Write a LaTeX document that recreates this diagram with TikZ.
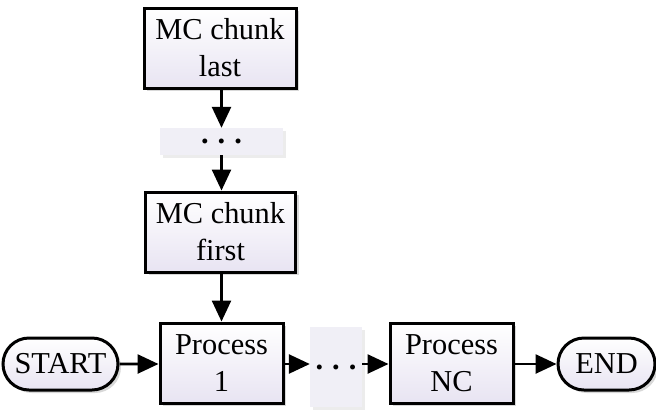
\documentclass[tikz,border=0pt]{standalone}
\usepackage{fontspec}
\setmainfont{Liberation Serif}
\usetikzlibrary{arrows.meta, shadows, shapes.misc}

\definecolor{boxlow}{RGB}{232,228,242}
\definecolor{dotfill}{RGB}{240,239,246}
\newcommand{\gapdots}{\raisebox{-3bp}{\textbf{.\hspace{9bp}.\hspace{9bp}.}}}

\tikzset{
  procbox/.style={draw, line width=3bp, rectangle, align=center,
    top color=white, bottom color=boxlow,
    drop shadow={shadow xshift=3bp, shadow yshift=-3bp, fill=black!30},
    minimum width=#1, minimum height=80bp, inner sep=0pt},
  procbox/.default=123bp,
  termbox/.style={draw, line width=3bp, rounded rectangle,
    top color=white, bottom color=boxlow,
    drop shadow={shadow xshift=3bp, shadow yshift=-3bp, fill=black!30},
    minimum width=#1, minimum height=52bp, inner sep=0pt},
  dotbox/.style={fill=dotfill, inner sep=0pt,
    drop shadow={shadow xshift=3bp, shadow yshift=-3bp, fill=black!15}},
  flow/.style={-{Triangle[length=21bp, width=19bp]}, line width=2.6bp}
}

\begin{document}
\begin{tikzpicture}[x=1bp, y=-1bp, font=\fontsize{30.5}{37}\selectfont]
  \useasboundingbox (0,0) rectangle (656,410);
  % vertical chain of chunks
  \node[procbox=152bp] (last) at (220,48) {MC chunk\\last};
  \node[dotbox, minimum width=123bp, minimum height=27bp] (vdots) at (221.5,141.5) {\gapdots};
  \node[procbox=150bp] (first) at (220.5,232) {MC chunk\\first};
  % horizontal chain of processes
  \node[termbox=115bp] (start) at (60.5,364) {START};
  \node[procbox] (proc1) at (221.5,363) {Process\\1};
  \node[dotbox, minimum width=52bp, minimum height=80bp] (hdots) at (336,367) {\gapdots};
  \node[procbox] (procnc) at (451.5,363) {Process\\NC};
  \node[termbox=97bp] (end) at (606.5,364) {END};
  % connectors
  \draw[flow] (last.south -| proc1) -- (vdots.north -| proc1);
  \draw[flow] (vdots.south -| proc1) -- (first.north -| proc1);
  \draw[flow] (first.south -| proc1) -- (proc1.north);
  \draw[flow] (start) -- (proc1.west |- start);
  \draw[flow] (proc1.east |- start) -- (hdots.west |- start);
  \draw[flow] (hdots.east |- start) -- (procnc.west |- start);
  \draw[flow] (procnc.east |- start) -- (end);
\end{tikzpicture}
\end{document}
